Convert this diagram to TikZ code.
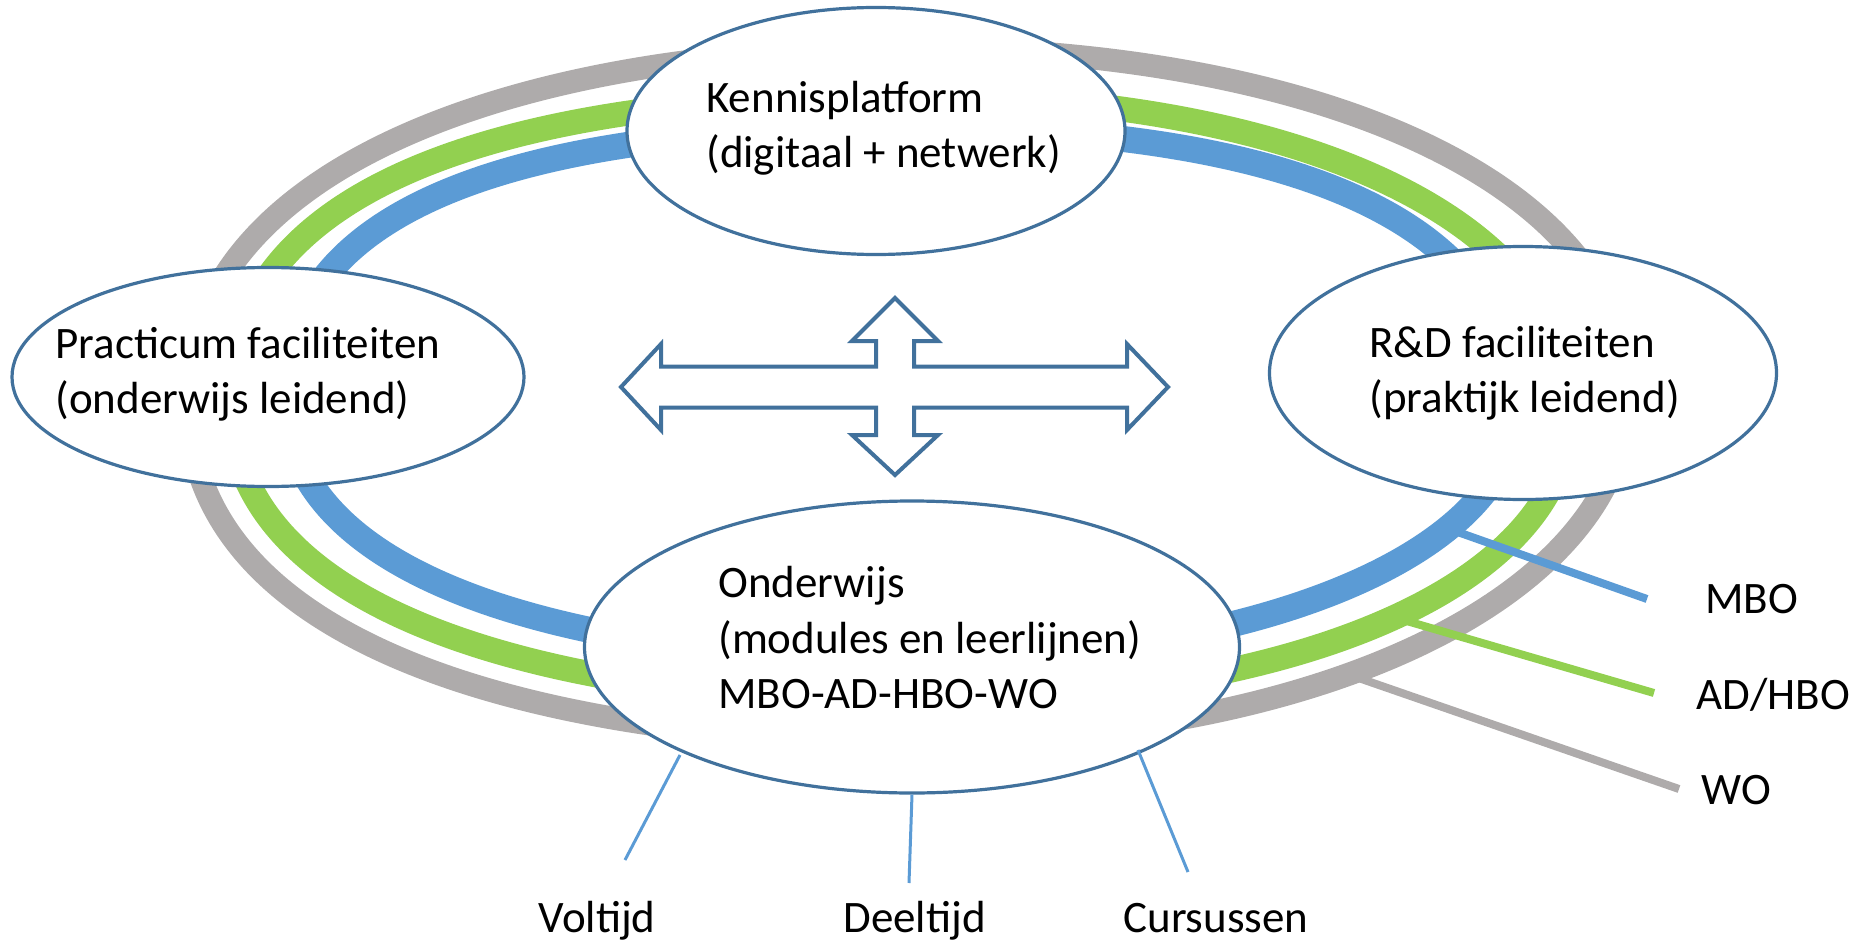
\documentclass[tikz,border=0pt]{standalone}
\usepackage{fontspec}
\setmainfont{Carlito}
\usetikzlibrary{shapes.geometric}
\definecolor{edgeblue}{HTML}{41719C}
\definecolor{rgray}{HTML}{AEABAB}
\definecolor{rgreen}{HTML}{92D050}
\definecolor{rblue}{HTML}{5B9BD5}
\begin{document}
\begin{tikzpicture}[x=0.5pt,y=-0.5pt,
  ell/.style={ellipse, draw=edgeblue, line width=1.6pt, fill=white, inner sep=0pt},
  lbl/.style={anchor=base west, inner sep=0pt, font=\fontsize{22.5}{27}\selectfont},
  thinline/.style={draw=rblue, line width=1.5pt},
  branch/.style={line width=4pt},
  grayring/.style={draw=rgray, line width=11.5pt},
  greenring/.style={draw=rgreen, line width=12.5pt},
  bluering/.style={draw=rblue, line width=13pt},
  quadarrow/.style={draw=edgeblue, line width=2pt, fill=white, line join=miter}]
\useasboundingbox (0,0) rectangle (1854,942);
% ---- gray ring (WO)
\draw[grayring] (188,400) .. controls (188,171) and (511,48) .. (905,48)
  .. controls (1324,48) and (1628,187) .. (1628,395)
  .. controls (1628,586) and (1339,742) .. (905,742)
  .. controls (618,742) and (188,674) .. cycle;
% ---- green ring (AD/HBO)
\draw[greenring] (230,400) .. controls (230,186.5) and (506,95) .. (905,95)
  .. controls (1300,95) and (1570,221) .. (1570,410)
  .. controls (1570,585) and (1298,702) .. (905,702)
  .. controls (634,702) and (230,641.6) .. cycle;
% ---- blue ring (MBO)
\draw[bluering] (285,395) .. controls (285,209.5) and (512,127) .. (905,127)
  .. controls (1301,127) and (1515,225) .. (1515,410)
  .. controls (1515,547.5) and (1271,660) .. (905,660)
  .. controls (657,660) and (285,607) .. cycle;
% branch lines
\coordinate (mboS) at (1452,530);  \coordinate (mboE) at (1647,599);
\coordinate (hboS) at (1393,617);  \coordinate (hboE) at (1654,693);
\coordinate (woS)  at (1350,675);  \coordinate (woE)  at (1679,789);
\draw[branch, rblue] (mboS) -- (mboE);
\draw[branch, rgreen] (hboS) -- (hboE);
\draw[branch, rgray] (woS) -- (woE);
% ellipses
\node[ell, minimum width=249pt, minimum height=123.5pt] (kp) at (876,131) {};
\node[ell, minimum width=256pt, minimum height=109.5pt] (pr) at (268,377) {};
\node[ell, minimum width=253.5pt, minimum height=126.5pt] (rd) at (1523,373) {};
\node[ell, minimum width=327.5pt, minimum height=146pt] (on) at (912,647) {};
% texts
\node[lbl] (kp1) at (706,112) {Kennisplatform};
\node[lbl] (kp2) at (706,167) {(digitaal + netwerk)};
\node[lbl] (pr1) at (55,358) {Practicum faciliteiten};
\node[lbl] (pr2) at (55,413) {(onderwijs leidend)};
\node[lbl] (rd1) at (1369,357) {R\&D faciliteiten};
\node[lbl] (rd2) at (1369,412) {(praktijk leidend)};
\node[lbl] (on1) at (718,597) {Onderwijs};
\node[lbl] (on2) at (718,653) {(modules en leerlijnen)};
\node[lbl] (on3) at (718,708) {MBO-AD-HBO-WO};
\node[lbl] (vt) at (538,932) {Voltijd};
\node[lbl] (dt) at (843,932) {Deeltijd};
\node[lbl] (cu) at (1123,932) {Cursussen};
\node[lbl] (mbo) at (1705,613) {MBO};
\node[lbl] (hbo) at (1696,709) {AD/HBO};
\node[lbl] (wo) at (1701,804) {WO};
% thin connectors
\coordinate (vtS) at (680,755); \coordinate (vtE) at (625,860);
\coordinate (dtE) at (909,883);
\coordinate (cuS) at (1138,750); \coordinate (cuE) at (1188,872);
\draw[thinline] (vtS) -- (vtE);
\draw[thinline] (on.south) -- (dtE);
\draw[thinline] (cuS) -- (cuE);
% quad arrow
\draw[quadarrow] (621,387) -- (661,344) -- (661,366.5) -- (876,366.5) -- (876,341) -- (852,341)
  -- (895,298) -- (938,341) -- (914,341) -- (914,366.5) -- (1127,366.5) -- (1127,344)
  -- (1168,387) -- (1127,430) -- (1127,407.5) -- (914,407.5) -- (914,435) -- (938,435)
  -- (895,475) -- (852,435) -- (876,435) -- (876,407.5) -- (661,407.5) -- (661,430) -- cycle;
\end{tikzpicture}
\end{document}
